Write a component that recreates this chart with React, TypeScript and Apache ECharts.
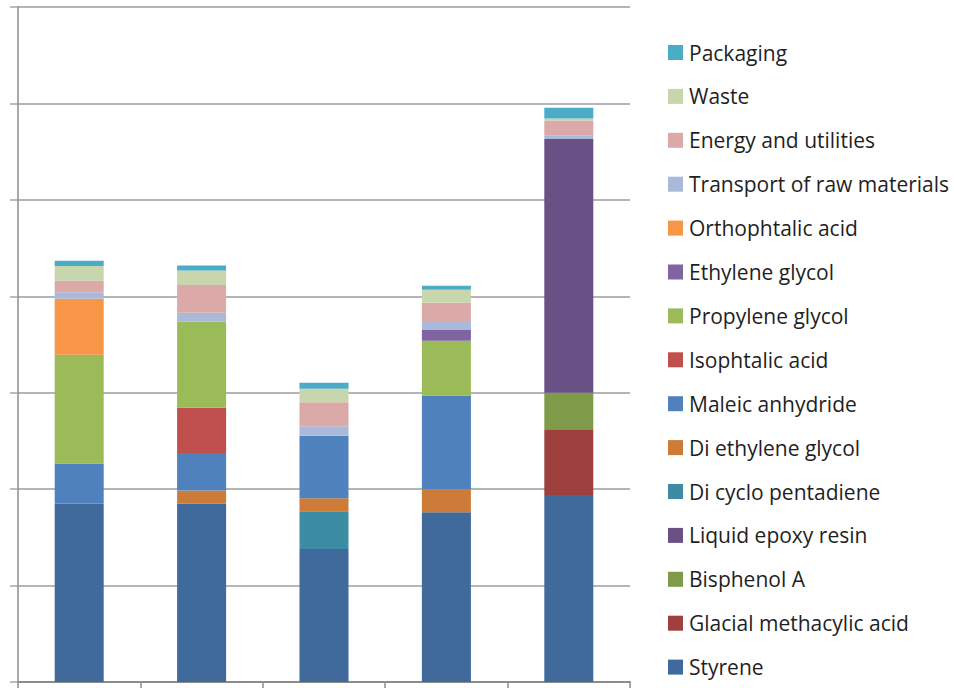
import React, { useEffect, useRef } from "react";
import * as echarts from "echarts";

// Process routes compared on the x axis (no labels drawn)
const categories = ["Route 1", "Route 2", "Route 3", "Route 4", "Route 5"];

// Contributions per route, stacked bottom to top
const styrene = [1.85, 1.85, 1.38, 1.76, 1.94];
const glacialMethacylicAcid = [0, 0, 0, 0, 0.68];
const bisphenolA = [0, 0, 0, 0, 0.38];
const liquidEpoxyResin = [0, 0, 0, 0, 2.63];
const diCycloPentadiene = [0, 0, 0.39, 0, 0];
const diEthyleneGlycol = [0, 0.135, 0.135, 0.24, 0];
const maleicAnhydride = [0.415, 0.39, 0.65, 0.97, 0];
const isophtalicAcid = [0, 0.47, 0, 0, 0];
const propyleneGlycol = [1.13, 0.89, 0, 0.57, 0];
const ethyleneGlycol = [0, 0, 0, 0.11, 0];
const orthophtalicAcid = [0.58, 0, 0, 0, 0];
const transportOfRawMaterials = [0.068, 0.093, 0.097, 0.083, 0.034];
const energyAndUtilities = [0.12, 0.29, 0.25, 0.2, 0.16];
const waste = [0.15, 0.15, 0.14, 0.135, 0.021];
const packaging = [0.056, 0.052, 0.062, 0.042, 0.11];

const seriesDefs: { name: string; data: number[]; color: string }[] = [
  { name: "Styrene", data: styrene, color: "#3F6A9B" },
  { name: "Glacial methacylic acid", data: glacialMethacylicAcid, color: "#9E413E" },
  { name: "Bisphenol A", data: bisphenolA, color: "#7F9A48" },
  { name: "Liquid epoxy resin", data: liquidEpoxyResin, color: "#695185" },
  { name: "Di cyclo pentadiene", data: diCycloPentadiene, color: "#3C8DA3" },
  { name: "Di ethylene glycol", data: diEthyleneGlycol, color: "#CC7B38" },
  { name: "Maleic anhydride", data: maleicAnhydride, color: "#4F81BD" },
  { name: "Isophtalic acid", data: isophtalicAcid, color: "#C0504D" },
  { name: "Propylene glycol", data: propyleneGlycol, color: "#9BBB59" },
  { name: "Ethylene glycol", data: ethyleneGlycol, color: "#8064A2" },
  { name: "Orthophtalic acid", data: orthophtalicAcid, color: "#F79646" },
  { name: "Transport of raw materials", data: transportOfRawMaterials, color: "#AAB9D9" },
  { name: "Energy and utilities", data: energyAndUtilities, color: "#DAA9A8" },
  { name: "Waste", data: waste, color: "#C7D6AD" },
  { name: "Packaging", data: packaging, color: "#4BACC6" },
];

export default function App() {
  const ref = useRef<HTMLDivElement>(null);

  useEffect(() => {
    if (!ref.current) return;
    const chart = echarts.init(ref.current, null, { renderer: "svg" });
    chart.setOption({
      animation: false,
      backgroundColor: "#ffffff",
      textStyle: { fontFamily: "Open Sans" },
      grid: { left: 18, right: 324, top: 7, bottom: 6, containLabel: false },
      legend: {
        orient: "vertical",
        left: 668,
        top: 42,
        padding: 0,
        height: 646,
        itemWidth: 15,
        itemHeight: 15,
        itemGap: 22.9,
        icon: "rect",
        selectedMode: false,
        data: seriesDefs.map((s) => s.name).reverse(),
        textStyle: { fontSize: 21, lineHeight: 21, color: "#1f1f1f", padding: [0, 0, 0, 1] },
      },
      xAxis: {
        type: "category",
        data: categories,
        boundaryGap: true,
        axisLine: { show: true, lineStyle: { color: "#8c8c8c", width: 2 } },
        axisTick: { show: true, length: 7, lineStyle: { color: "#8c8c8c", width: 1.5 } },
        axisLabel: { show: false },
        splitLine: { show: false },
      },
      yAxis: {
        type: "value",
        min: 0,
        max: 7,
        interval: 1,
        axisLine: { show: true, lineStyle: { color: "#8c8c8c", width: 1.5 } },
        axisTick: { show: true, length: 8, lineStyle: { color: "#a6a6a6", width: 1.5 } },
        axisLabel: { show: false },
        splitLine: { show: true, lineStyle: { color: "#b5b5b5", width: 2 } },
      },
      series: seriesDefs.map((s) => ({
        name: s.name,
        type: "bar",
        stack: "total",
        barWidth: 49,
        data: s.data,
        itemStyle: { color: s.color },
        emphasis: { disabled: true },
      })),
    });
    return () => chart.dispose();
  }, []);

  return (
    <div
      ref={ref}
      style={{ position: "fixed", left: 0, top: 0, width: 954, height: 688 }}
    />
  );
}
